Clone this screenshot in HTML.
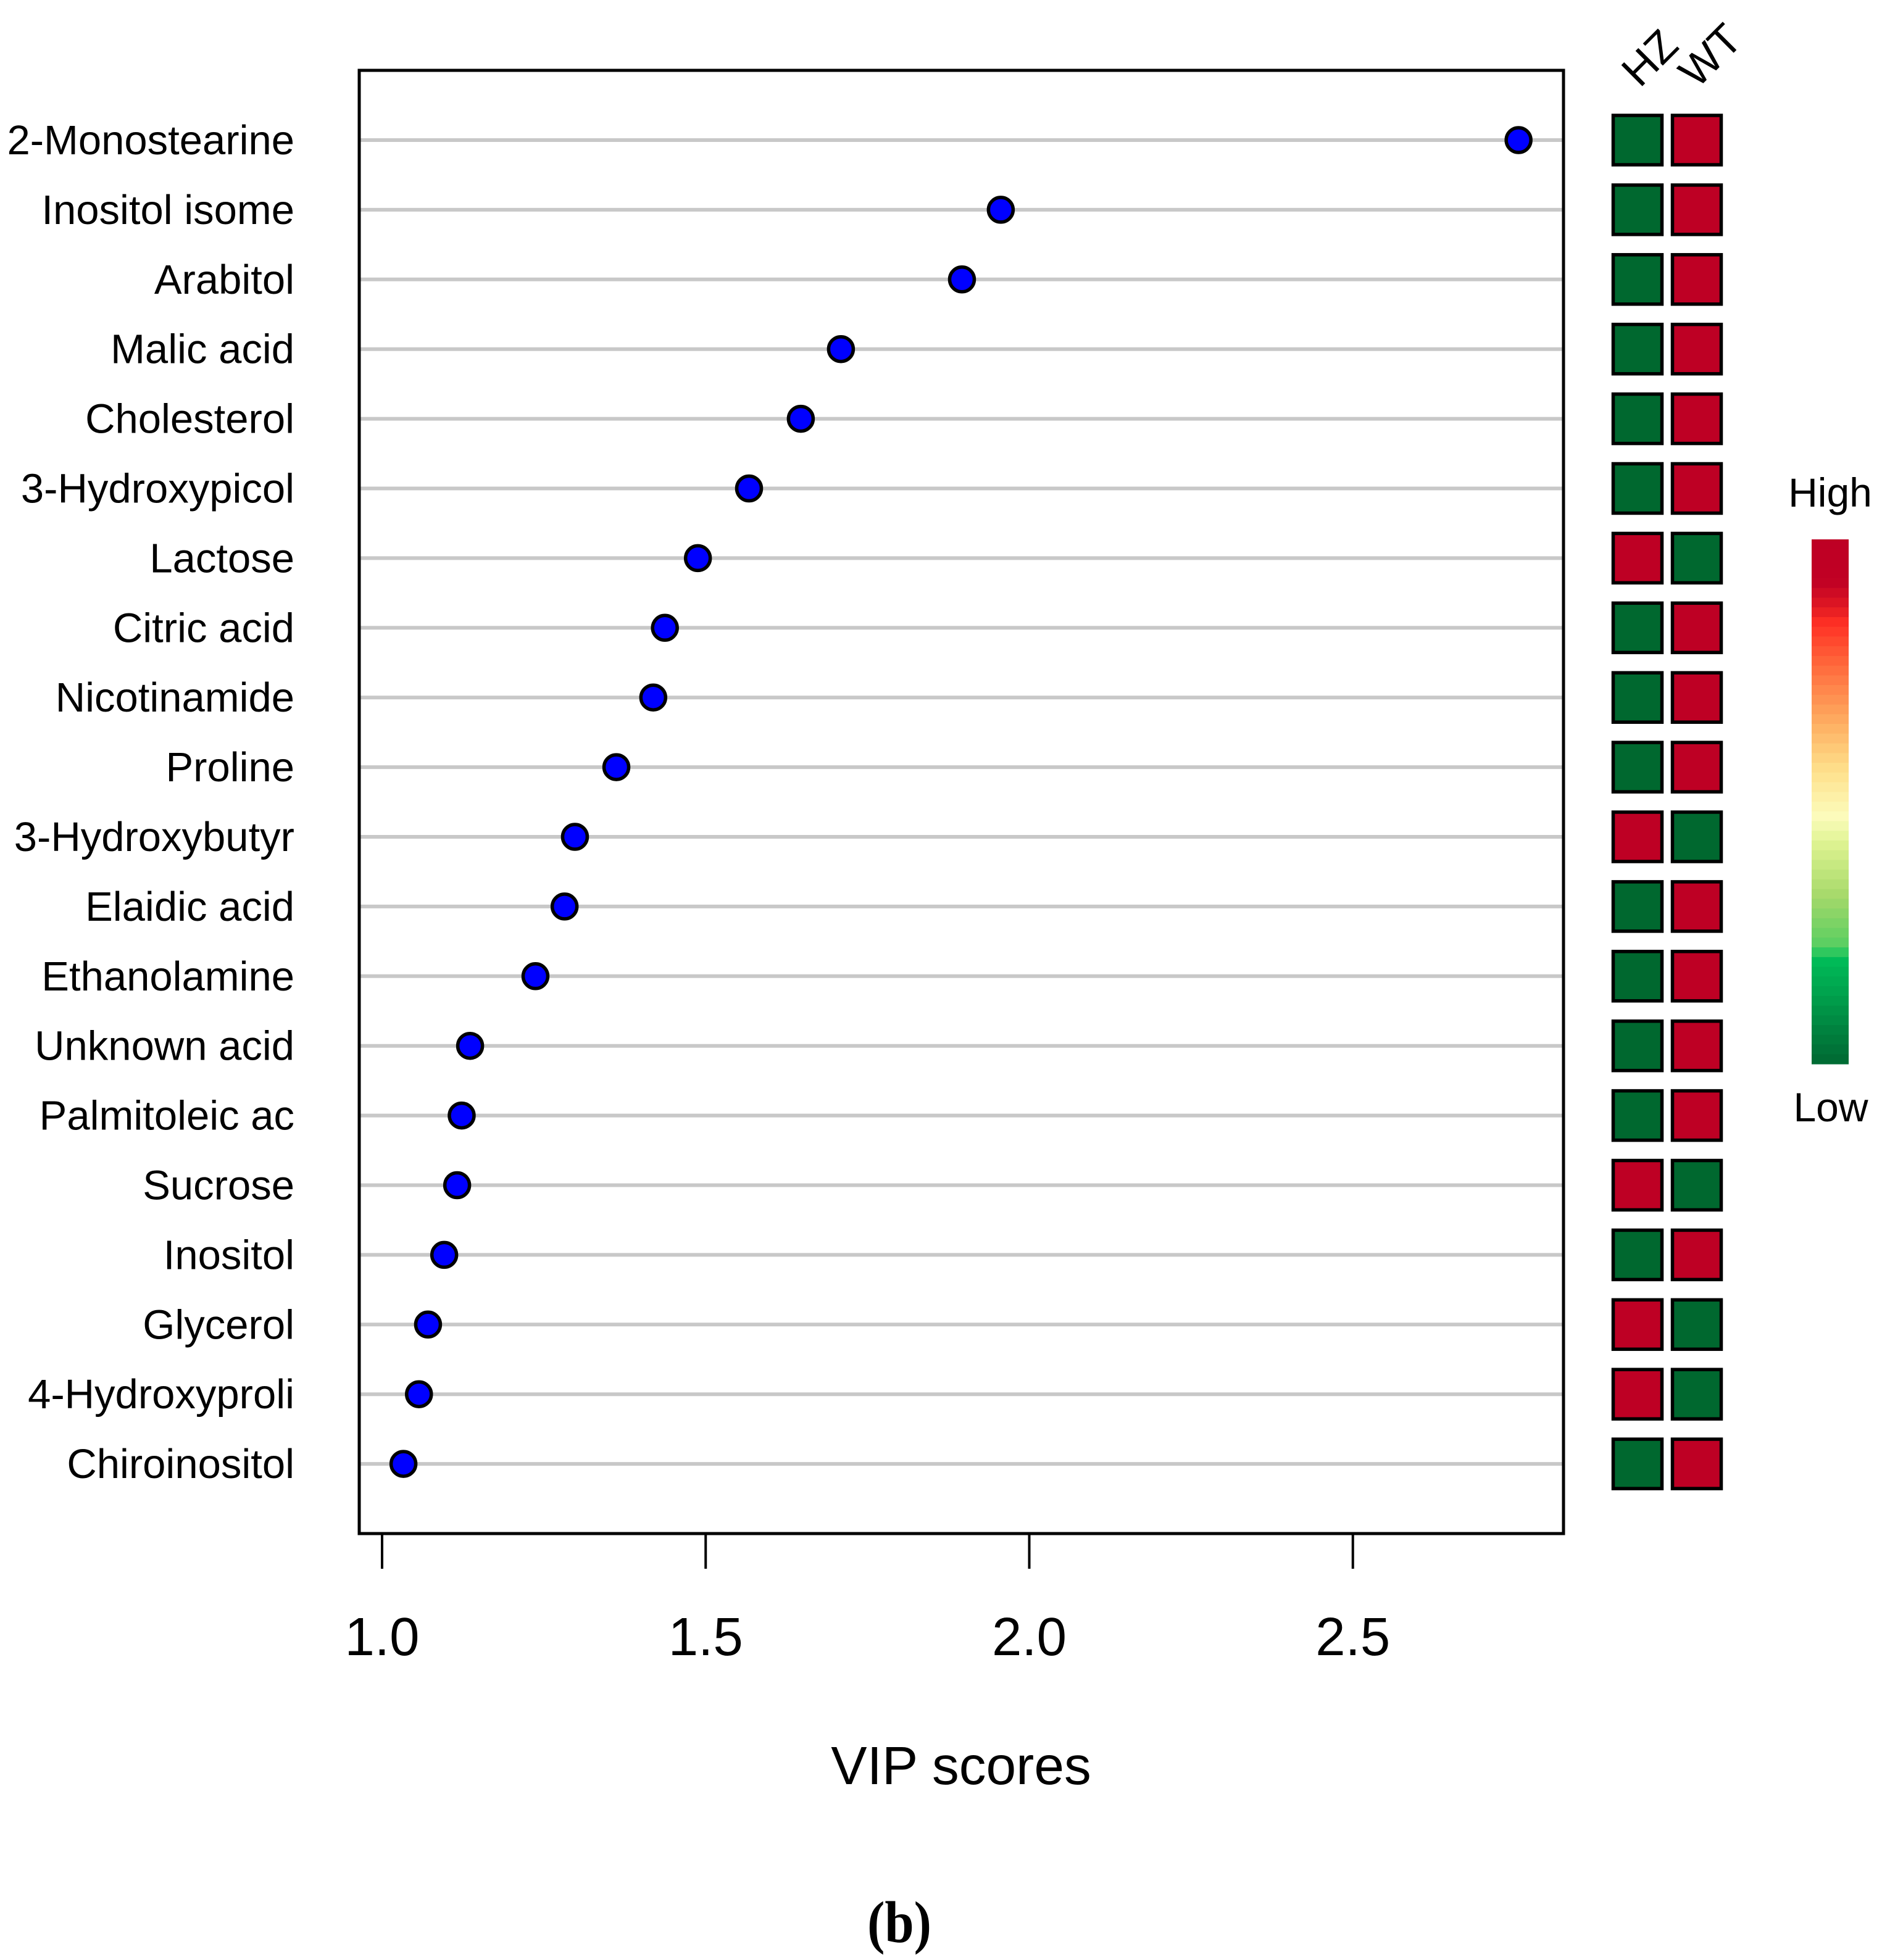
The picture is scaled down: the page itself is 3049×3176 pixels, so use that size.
<!DOCTYPE html>
<html lang="en">
<head>
<meta charset="utf-8">
<title>VIP scores</title>
<style>
html,body{margin:0;padding:0;background:#fff;}
svg{display:block;}
text{font-family:"Liberation Sans",sans-serif;fill:#000;}
</style>
</head>
<body>
<svg id="chart" xmlns="http://www.w3.org/2000/svg" width="3049" height="3176" viewBox="0 0 3049 3176"></svg>
<script>
const categories = ["2-Monostearine","Inositol isome","Arabitol","Malic acid","Cholesterol","3-Hydroxypicol","Lactose","Citric acid","Nicotinamide","Proline","3-Hydroxybutyr","Elaidic acid","Ethanolamine","Unknown acid","Palmitoleic ac","Sucrose","Inositol","Glycerol","4-Hydroxyproli","Chiroinositol"];
const vipScores = [2.756,1.956,1.896,1.709,1.647,1.567,1.488,1.437,1.419,1.362,1.298,1.282,1.237,1.136,1.123,1.116,1.096,1.071,1.057,1.033];
const hzLevels = [0,0,0,0,0,0,1,0,0,0,1,0,0,0,0,1,0,1,1,0];
const wtLevels = [1,1,1,1,1,1,0,1,1,1,0,1,1,1,1,0,1,0,0,1];
const xTickValues = [1.0,1.5,2.0,2.5];
const xTickLabels = ["1.0","1.5","2.0","2.5"];
const heatmapGroups = ["HZ","WT"];

const NS = "http://www.w3.org/2000/svg";
const svg = document.getElementById("chart");
const frame = {left:582,right:2533,top:114,bottom:2485};
const rowStart = 227, rowStep = 112.9;
const xScale = v => 619 + (v - 1) * 1048.5;
const yScale = i => rowStart + i * rowStep;
const levelColor = l => l ? "#be0024" : "#00682f";

function make(tag, attrs, text){
  const el = document.createElementNS(NS, tag);
  for (const k in attrs) el.setAttribute(k, attrs[k]);
  if (text !== undefined) el.textContent = text;
  svg.appendChild(el);
  return el;
}

categories.forEach((name, i) => {
  const y = yScale(i);
  const grid = make("line", {x1:frame.left, x2:frame.right, y1:y, y2:y, stroke:"#c8c8c8", "stroke-width":6});
  
  
  const label = make("text", {x:477, y:y + 23, "text-anchor":"end", "font-size":67}, name);
  
  
});

const plotFrame = make("rect", {x:frame.left, y:frame.top, width:frame.right - frame.left, height:frame.bottom - frame.top, fill:"none", stroke:"#000", "stroke-width":5});



vipScores.forEach((v, i) => {
  const pt = make("circle", {cx:xScale(v), cy:yScale(i), r:20, fill:"#0000ff", stroke:"#000", "stroke-width":5.5});
  
  
});

xTickValues.forEach((v, i) => {
  const tick = make("line", {x1:xScale(v), x2:xScale(v), y1:frame.bottom, y2:2542, stroke:"#000", "stroke-width":4});
  
  
  const lab = make("text", {x:xScale(v), y:2682, "text-anchor":"middle", "font-size":87}, xTickLabels[i]);
  
  
});

const xTitle = make("text", {x:1557, y:2891, "text-anchor":"middle", "font-size":87.5}, "VIP scores");



const panel = make("text", {transform:"translate(1457 3147) scale(1 1.12)", "text-anchor":"middle", "font-size":85, "font-weight":"bold", style:'font-family:"Liberation Serif",serif'}, "(b)");



const cellW = 79, cellH = 80;
const colCenters = [2653, 2749];
[hzLevels, wtLevels].forEach((levels, c) => {
  levels.forEach((l, i) => {
    const cell = make("rect", {x:colCenters[c] - cellW / 2, y:yScale(i) - cellH / 2, width:cellW, height:cellH, fill:levelColor(l), stroke:"#000", "stroke-width":5.5});
    
    
  });
});

const groupAnchors = [[2672,93],[2770,89]];
heatmapGroups.forEach((g, i) => {
  const t = make("text", {transform:"translate(" + groupAnchors[i][0] + " " + groupAnchors[i][1] + ") rotate(-45)", y:25, "text-anchor":"middle", "font-size":70}, g);
  
  
});

/* colour legend, stepped bands */
const legendStops = [[0,[190,0,36]],[.08,[192,0,36]],[.13,[225,25,35]],[.16,[255,48,36]],[.24,[255,105,60]],[.35,[254,174,97]],[.44,[254,224,139]],[.53,[252,252,188]],[.58,[222,243,145]],[.68,[166,217,106]],[.785,[80,205,96]],[.79,[0,192,90]],[.87,[0,160,76]],[.94,[0,128,62]],[1,[0,104,50]]];
const legendBox = {x:2935, y:874, w:60, h:850, bands:54};
function legendColor(t){
  for (let k = 1; k < legendStops.length; k++){
    if (t <= legendStops[k][0]){
      const a = legendStops[k-1], b = legendStops[k];
      const f = (t - a[0]) / (b[0] - a[0]);
      return "rgb(" + a[1].map((c, j) => Math.round(c + (b[1][j] - c) * f)).join(",") + ")";
    }
  }
  return "rgb(0,104,50)";
}
for (let b = 0; b < legendBox.bands; b++){
  const bh = legendBox.h / legendBox.bands;
  const band = make("rect", {x:legendBox.x, y:legendBox.y + b * bh, width:legendBox.w, height:bh + 0.6, fill:legendColor((b + 0.5) / legendBox.bands)});
  
  
}
const high = make("text", {x:2965, y:821, "text-anchor":"middle", "font-size":66}, "High");


const low = make("text", {x:2966, y:1817, "text-anchor":"middle", "font-size":66}, "Low");


</script>
</body>
</html>
